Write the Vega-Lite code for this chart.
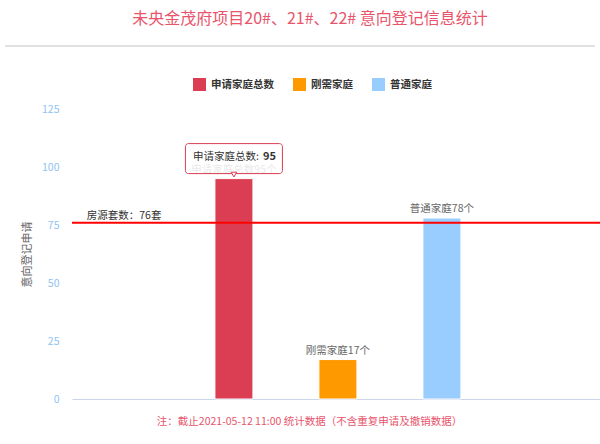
{
  "$schema": "https://vega.github.io/schema/vega-lite/v6.json",
  "autosize": "none",
  "padding": {"left": 72, "top": 109, "right": 0, "bottom": 45},
  "width": 528,
  "height": 290,
  "title": {
    "text": "未央金茂府项目20#、21#、22# 意向登记信息统计",
    "anchor": "middle",
    "frame": "group",
    "dx": -26,
    "offset": 18,
    "fontSize": 16,
    "fontWeight": "normal",
    "color": "#e9546b"
  },
  "datasets": {
    "families": [
      {"类别": "申请家庭总数", "序号": 2, "数量": 95, "标签": "申请家庭总数95个"},
      {"类别": "刚需家庭", "序号": 3, "数量": 17, "标签": "刚需家庭17个"},
      {"类别": "普通家庭", "序号": 4, "数量": 78, "标签": "普通家庭78个"}
    ],
    "supply": [
      {"名称": "房源套数", "数量": 76, "标签": "房源套数：76套"}
    ]
  },
  "data": {"name": "families"},
  "layer": [
    {
      "mark": {"type": "rule", "color": "#e0e0e0", "strokeWidth": 1.5, "clip": false},
      "encoding": {
        "x": {"datum": -0.2, "type": "quantitative"},
        "x2": {"datum": 5.47},
        "y": {"datum": 152.2, "type": "quantitative"}
      }
    },
    {
      "mark": {"type": "bar", "orient": "vertical", "width": 38, "stroke": "#ffffff", "strokeWidth": 1},
      "encoding": {
        "x": {
          "field": "序号",
          "type": "quantitative",
          "scale": {"domain": [0.491, 5.472], "nice": false, "zero": false},
          "axis": {
            "labels": false,
            "ticks": false,
            "grid": false,
            "domainColor": "#ccd6eb",
            "domainWidth": 1,
            "title": "注：截止2021-05-12 11:00 统计数据（不含重复申请及撤销数据）",
            "titleColor": "#e9546b",
            "titleFontSize": 10.5,
            "titleFontWeight": "normal",
            "titlePadding": 17,
            "titleX": 237,
            "titleAnchor": "middle"
          }
        },
        "y": {
          "field": "数量",
          "type": "quantitative",
          "scale": {"domain": [0, 125], "nice": false},
          "axis": {
            "values": [0, 25, 50, 75, 100, 125],
            "ticks": false,
            "domain": false,
            "gridColor": "#d6d6d6",
            "labelColor": "#8fc3f5",
            "labelFontSize": 10.5,
            "labelPadding": 13,
            "title": "意向登记申请",
            "titleColor": "#666666",
            "titleFontSize": 11,
            "titleFontWeight": "normal",
            "titlePadding": 9
          }
        },
        "color": {
          "field": "类别",
          "type": "nominal",
          "scale": {
            "domain": ["申请家庭总数", "刚需家庭", "普通家庭"],
            "range": ["#db3d52", "#ff9900", "#99ccff"]
          },
          "legend": {
            "orient": "none",
            "direction": "horizontal",
            "legendX": 121,
            "legendY": -31,
            "title": null,
            "symbolType": "square",
            "symbolSize": 169,
            "symbolStrokeWidth": 0,
            "labelFontSize": 10.5,
            "labelFontWeight": "bold",
            "labelColor": "#333333",
            "labelOffset": 5,
            "columnPadding": 19
          }
        }
      }
    },
    {
      "mark": {"type": "text", "baseline": "bottom", "dy": -4, "fontSize": 10.5, "color": "#666666"},
      "encoding": {
        "x": {"field": "序号", "type": "quantitative"},
        "y": {"field": "数量", "type": "quantitative"},
        "text": {"field": "标签"}
      }
    },
    {
      "data": {"name": "supply"},
      "mark": {"type": "rule", "color": "#ff0000", "strokeWidth": 2},
      "encoding": {
        "y": {"field": "数量", "type": "quantitative"}
      }
    },
    {
      "data": {"name": "supply"},
      "mark": {"type": "text", "align": "left", "baseline": "bottom", "dy": -2, "fontSize": 10.5, "color": "#333333"},
      "encoding": {
        "x": {"datum": 0.585, "type": "quantitative"},
        "y": {"field": "数量", "type": "quantitative"},
        "text": {"field": "标签"}
      }
    },
    {
      "transform": [{"filter": "datum['类别'] === '申请家庭总数'"}],
      "layer": [
        {
          "mark": {
            "type": "bar",
            "orient": "vertical",
            "width": 97,
            "fill": "#ffffff",
            "fillOpacity": 0.85,
            "stroke": "#db3d52",
            "strokeWidth": 1,
            "cornerRadius": 3,
            "yOffset": -35,
            "y2Offset": -5
          },
          "encoding": {
            "x": {"field": "序号", "type": "quantitative"},
            "y": {"field": "数量", "type": "quantitative"},
            "y2": {"field": "数量"}
          }
        },
        {
          "mark": {"type": "point", "shape": "triangle-down", "size": 30, "filled": true, "fill": "#ffffff", "stroke": "#db3d52", "strokeWidth": 1, "opacity": 1, "yOffset": -4},
          "encoding": {
            "x": {"field": "序号", "type": "quantitative"},
            "y": {"field": "数量", "type": "quantitative"}
          }
        },
        {
          "mark": {"type": "text", "align": "right", "baseline": "middle", "dx": 25, "dy": -22, "fontSize": 10.5, "color": "#333333"},
          "encoding": {
            "x": {"field": "序号", "type": "quantitative"},
            "y": {"field": "数量", "type": "quantitative"},
            "text": {"value": "申请家庭总数:"}
          }
        },
        {
          "mark": {"type": "text", "align": "left", "baseline": "middle", "dx": 29, "dy": -22, "fontSize": 11, "fontWeight": "bold", "color": "#333333"},
          "encoding": {
            "x": {"field": "序号", "type": "quantitative"},
            "y": {"field": "数量", "type": "quantitative"},
            "text": {"field": "数量", "type": "quantitative"}
          }
        }
      ]
    }
  ],
  "config": {
    "font": "Noto Sans CJK SC",
    "view": {"stroke": null}
  }
}
